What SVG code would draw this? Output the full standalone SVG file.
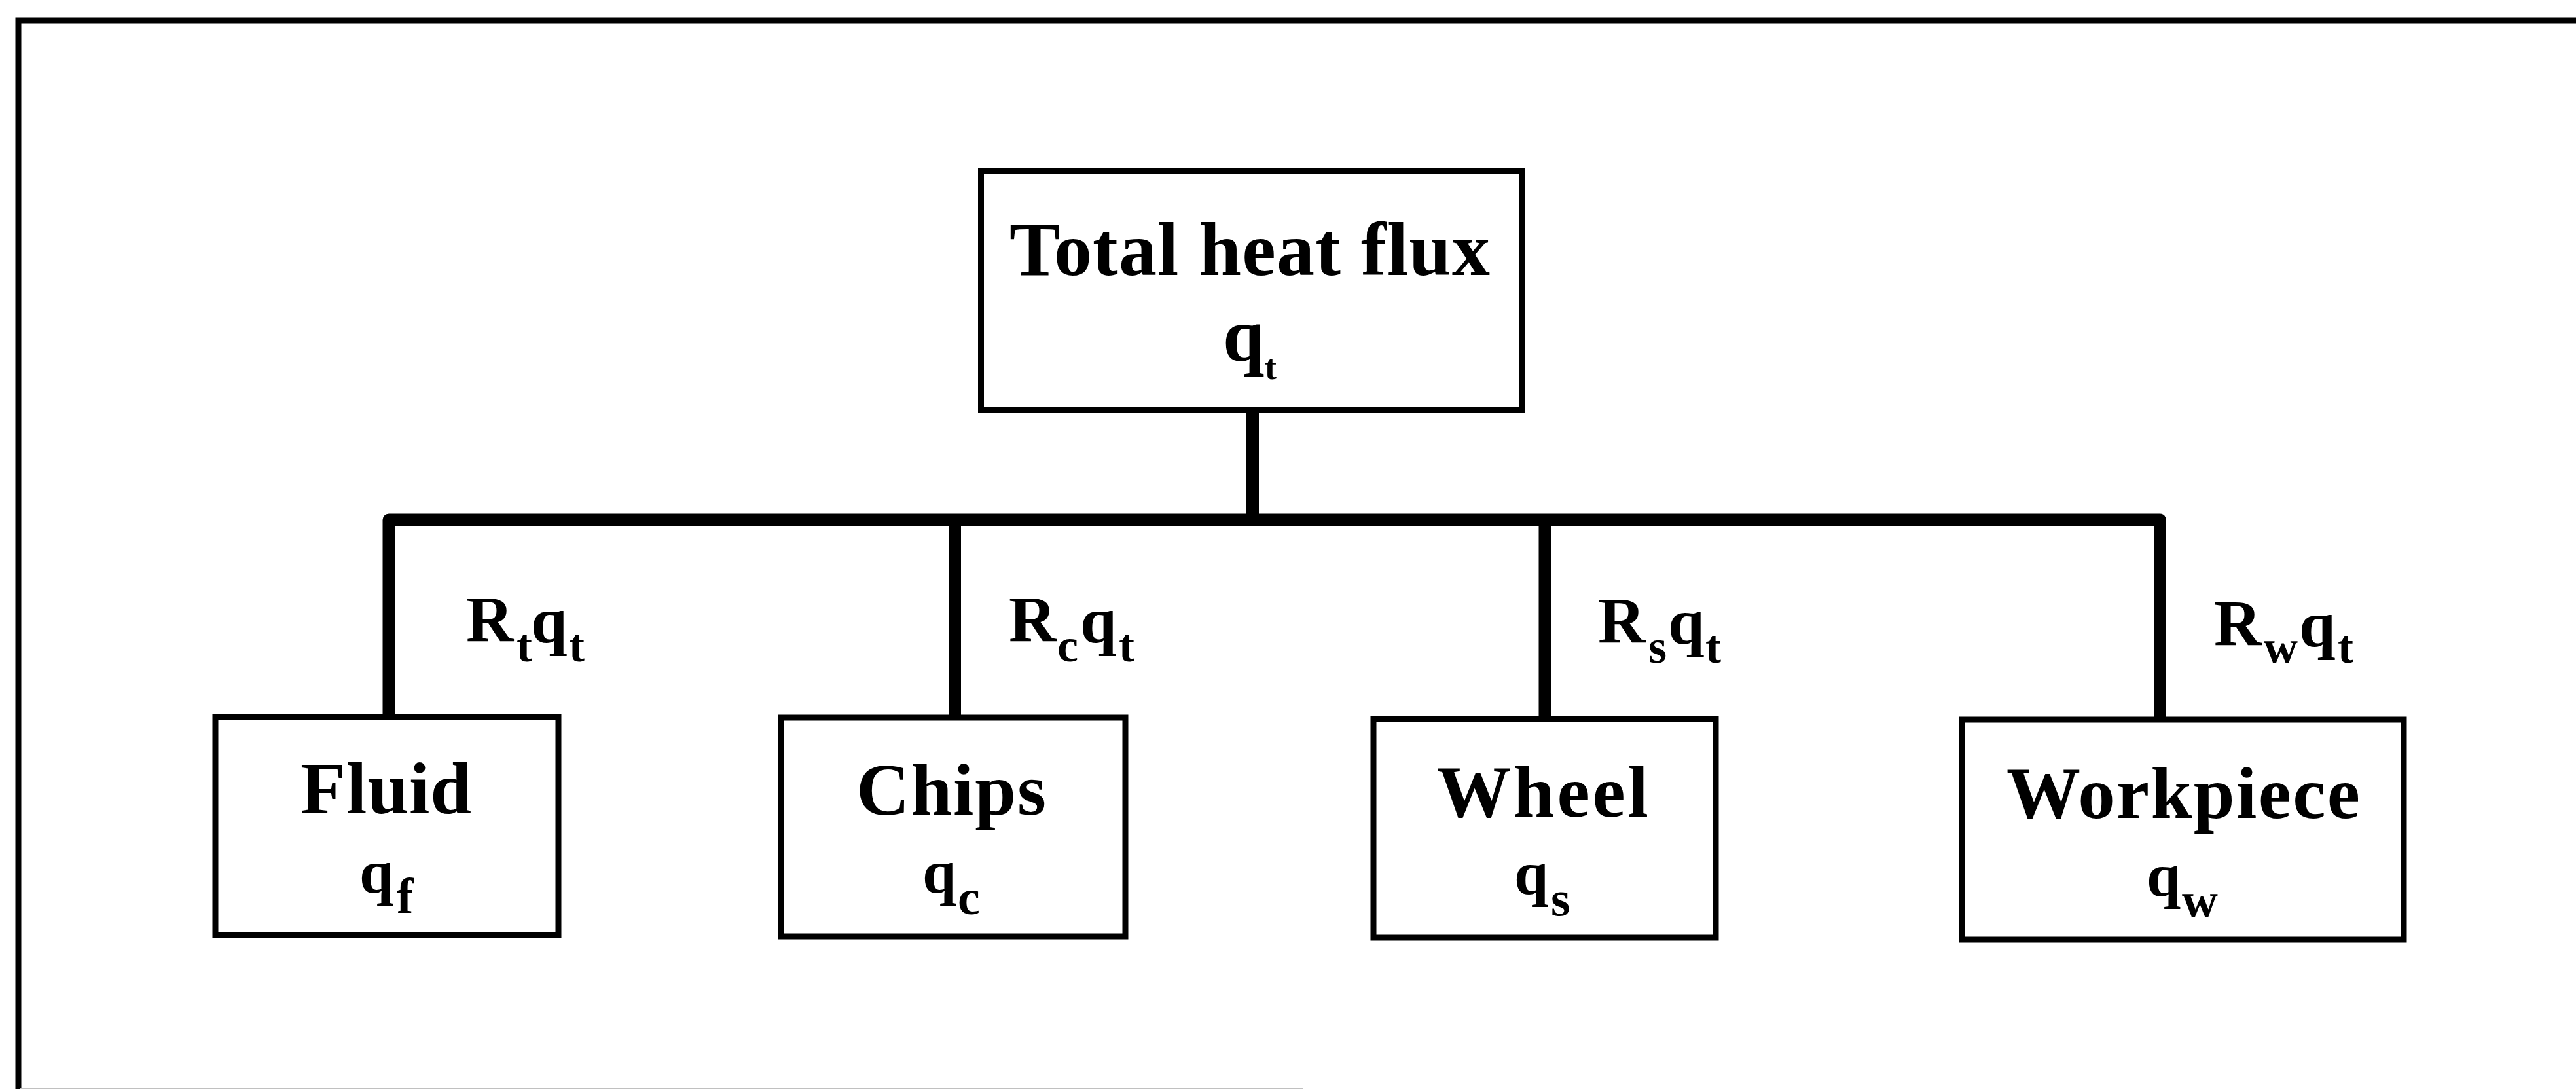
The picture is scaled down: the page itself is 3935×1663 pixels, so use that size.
<svg xmlns="http://www.w3.org/2000/svg" width="3935" height="1663" viewBox="0 0 3935 1663">
<style>
  .box { fill: #ffffff; stroke: #000000; stroke-width: 9; }
  .conn { fill: none; stroke: #000000; stroke-width: 19; stroke-linejoin: round; }
  .lbl { font-family: "Liberation Serif", "Times New Roman", serif; font-weight: bold; fill: #000000; }
  .main { font-size: 113px; }
  .q { font-size: 94px; }
  .sub { font-size: 76px; }
  .r { font-size: 100px; }
  .rsub { font-size: 72px; }
</style>
<rect x="0" y="0" width="3935" height="1663" fill="#ffffff"/>
<g id="frame">
  <path d="M28,1663 V31 H3935" fill="none" stroke="#000000" stroke-width="9"/>
  <line x1="30" y1="1662" x2="1990" y2="1662" stroke="#c0c0c0" stroke-width="2"/>
</g>
<g id="connectors">
  <path class="conn" d="M1913.5,630 V794"/>
  <path class="conn" d="M594,1094 V794 H3299.5 V1099"/>
  <path class="conn" d="M1458.5,794 V1096"/>
  <path class="conn" d="M2360,794 V1098"/>
  <text class="lbl r"><tspan x="712" y="979">R</tspan><tspan class="rsub" x="789" y="1010">t</tspan><tspan x="811" y="981">q</tspan><tspan class="rsub" x="869" y="1010">t</tspan></text>
  <text class="lbl r"><tspan x="1541" y="979">R</tspan><tspan class="rsub" x="1615" y="1010">c</tspan><tspan x="1650" y="981">q</tspan><tspan class="rsub" x="1709" y="1010">t</tspan></text>
  <text class="lbl r"><tspan x="2441" y="981">R</tspan><tspan class="rsub" x="2518" y="1012">s</tspan><tspan x="2548" y="983">q</tspan><tspan class="rsub" x="2605" y="1012">t</tspan></text>
  <text class="lbl r"><tspan x="3382" y="985">R</tspan><tspan class="rsub" x="3458" y="1012">w</tspan><tspan x="3512" y="987">q</tspan><tspan class="rsub" x="3571" y="1012">t</tspan></text>
</g>
<g id="node-total">
  <rect class="box" x="1498.5" y="260.5" width="826" height="365"/>
  <text class="lbl" x="1542" y="420" font-size="116" textLength="734" lengthAdjust="spacing">Total heat flux</text>
  <text class="lbl"><tspan x="1868" y="551" font-size="114">q</tspan><tspan x="1932" y="579" font-size="54">t</tspan></text>
</g>
<g id="node-fluid">
  <rect class="box" x="329" y="1094.5" width="524" height="333"/>
  <text class="lbl main" x="459" y="1242" textLength="261" lengthAdjust="spacing">Fluid</text>
  <text class="lbl q"><tspan x="549" y="1363">q</tspan><tspan class="sub" x="606" y="1394">f</tspan></text>
</g>
<g id="node-chips">
  <rect class="box" x="1193" y="1096" width="526" height="334"/>
  <text class="lbl main" x="1308" y="1244" textLength="290" lengthAdjust="spacing">Chips</text>
  <text class="lbl q"><tspan x="1409" y="1363">q</tspan><tspan class="sub" x="1463" y="1396">c</tspan></text>
</g>
<g id="node-wheel">
  <rect class="box" x="2098" y="1098" width="523" height="334"/>
  <text class="lbl main" x="2195" y="1247" textLength="323" lengthAdjust="spacing">Wheel</text>
  <text class="lbl q"><tspan x="2313" y="1365">q</tspan><tspan class="sub" x="2369" y="1398">s</tspan></text>
</g>
<g id="node-workpiece">
  <rect class="box" x="2997" y="1099" width="675" height="336"/>
  <text class="lbl main" x="3065" y="1249" textLength="540" lengthAdjust="spacing">Workpiece</text>
  <text class="lbl q"><tspan x="3279" y="1368">q</tspan><tspan class="sub" x="3333" y="1400">w</tspan></text>
</g>
</svg>
